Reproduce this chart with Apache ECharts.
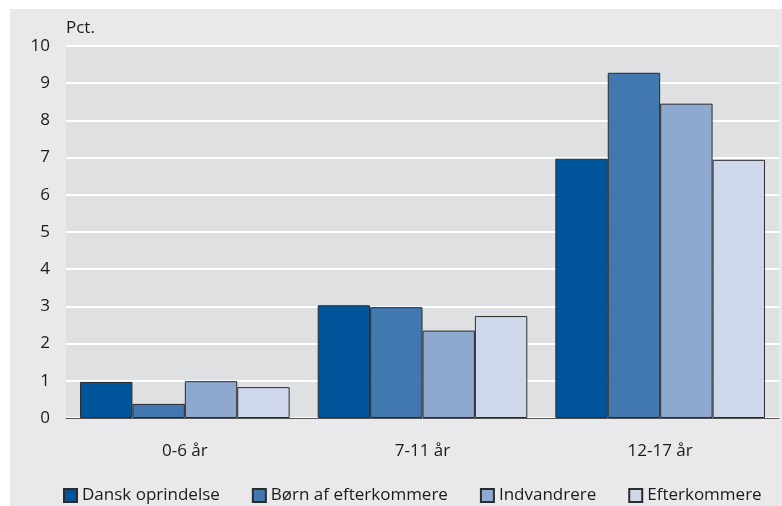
<!DOCTYPE html>
<html><head><meta charset="utf-8">
<script src="https://cdn.jsdelivr.net/npm/echarts@6/dist/echarts.min.js"></script>
<style>
html,body{margin:0;padding:0;background:#fff;}
#c{position:absolute;left:10px;top:9px;width:772px;height:497px;background:#e9e9eb;}
</style></head>
<body><div id="c"></div>
<script>
const categories = ['0-6 år', '7-11 år', '12-17 år'];
const seriesNames = ['Dansk oprindelse', 'Børn af efterkommere', 'Indvandrere', 'Efterkommere'];
const danskOprindelse = [0.97, 3.03, 6.97];
const boernAfEfterkommere = [0.38, 2.98, 9.28];
const indvandrere = [0.99, 2.35, 8.45];
const efterkommere = [0.83, 2.74, 6.94];
const colors = ['#00559a', '#4178b0', '#8ea8d0', '#cfd8ea'];
const values = [danskOprindelse, boernAfEfterkommere, indvandrere, efterkommere];
const font = '"Open Sans", sans-serif';

const chart = echarts.init(document.getElementById('c'));
chart.setOption({
  animation: false,
  textStyle: {fontFamily: font},
  grid: {left: 56, right: 3, top: 37, bottom: 88, show: true, backgroundColor: '#dfe0e2', borderWidth: 0},
  legend: {
    left: 48, top: 473, itemWidth: 13, itemHeight: 13, itemGap: 32, icon: 'rect',
    textStyle: {fontSize: 17, color: '#1a1a1a', fontFamily: font},
    data: seriesNames
  },
  xAxis: {
    type: 'category', data: categories,
    axisLine: {lineStyle: {color: '#555', width: 1}},
    axisTick: {show: false},
    axisLabel: {fontSize: 17, color: '#1a1a1a', margin: 25, fontFamily: font}
  },
  yAxis: {
    type: 'value', min: 0, max: 10, interval: 1,
    name: 'Pct.', nameLocation: 'end', nameGap: 9,
    nameTextStyle: {fontSize: 17, color: '#1a1a1a', align: 'left', fontFamily: font},
    axisLine: {show: false}, axisTick: {show: false},
    axisLabel: {fontSize: 17, color: '#1a1a1a', margin: 16, fontFamily: font},
    splitLine: {lineStyle: {color: '#ffffff', width: 2}}
  },
  series: seriesNames.map((n, i) => ({
    name: n, type: 'bar', data: values[i],
    barGap: 0, barCategoryGap: '11.8%',
    itemStyle: {color: colors[i], borderColor: '#2b2b2b', borderWidth: 1}
  }))
});
</script></body></html>
